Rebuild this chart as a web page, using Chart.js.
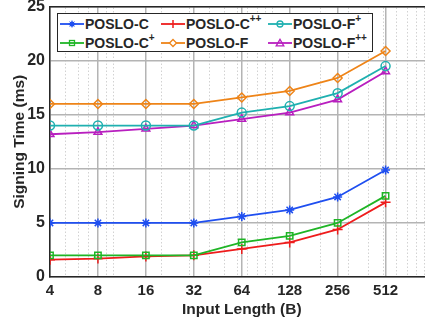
<!DOCTYPE html>
<html>
<head>
<meta charset="utf-8">
<script src="https://cdn.jsdelivr.net/npm/chart.js@4.4.1/dist/chart.umd.min.js"></script>
<style>
  html, body { margin: 0; padding: 0; background: #fff; overflow: hidden; }
  #wrap { position: relative; width: 440px; height: 324px; overflow: hidden; }
  #chart { position: absolute; left: 0; top: -8px; }
  #legend {
    position: absolute; left: 57px; top: 13px; width: 312px; height: 37px;
    background: #fff; border: 1px solid #262626;
    display: grid; grid-template-columns: 101px 107px 104px; grid-template-rows: 19px 19px;
    grid-auto-flow: column; padding: 0 0 0 2px; box-sizing: content-box;
    font: bold 14px "Liberation Sans", Arial, sans-serif; color: #262626;
  }
  #legend .item { display: flex; align-items: center; white-space: nowrap; }
  #legend svg { margin-right: 1px; flex: none; }
  #legend sup { font-size: 10px; line-height: 0; position: relative; top: -1px; }
</style>
</head>
<body>
<div id="wrap">
  <canvas id="chart" width="440" height="334"></canvas>
  <div id="legend"></div>
</div>
<script>
// x positions (input length in bytes)
const inputLengths = [4, 8, 16, 32, 64, 128, 256, 512];
const yTicks = [0, 5, 10, 15, 20, 25];

// signing time (ms)
const posloC    = [5.0, 5.0, 5.0, 5.0, 5.6, 6.2, 7.4, 9.9];
const posloCp   = [2.0, 2.0, 2.0, 2.0, 3.2, 3.8, 5.0, 7.5];
const posloCpp  = [1.6, 1.7, 1.9, 2.0, 2.6, 3.2, 4.4, 6.9];
const posloF    = [16.0, 16.0, 16.0, 16.0, 16.6, 17.2, 18.4, 20.9];
const posloFp   = [14.0, 14.0, 14.0, 14.0, 15.2, 15.8, 17.0, 19.5];
const posloFpp  = [13.2, 13.4, 13.7, 14.0, 14.6, 15.2, 16.4, 19.0];

const seriesNames = ["POSLO-C", "POSLO-C<sup>+</sup>", "POSLO-C<sup>++</sup>", "POSLO-F", "POSLO-F<sup>+</sup>", "POSLO-F<sup>++</sup>"];
const seriesColors = ["#1f4ff0", "#1fb526", "#ee1c1c", "#ee8418", "#1fb0b0", "#b81fbf"];
const seriesMarkers = ["star", "rect", "cross", "rectRot", "circle", "triangle"];
const seriesData = [posloC, posloCp, posloCpp, posloF, posloFp, posloFpp];

// minor log grid (1..9 x 10^k) between 4 and 1024
const minorTicks = [];
[1, 10, 100, 1000].forEach(p => {
  for (let m = 1; m <= 9; m++) {
    const v = m * p;
    if (v > 4 && v < 1024 && !inputLengths.includes(v)) minorTicks.push(v);
  }
});

const textColor = "#262626";
const family = "'Liberation Sans', Arial, sans-serif";

const datasets = seriesData.map((d, i) => ({
  label: seriesNames[i],
  data: inputLengths.map((x, j) => ({ x, y: d[j] })),
  borderColor: seriesColors[i],
  backgroundColor: seriesMarkers[i] === "star" ? seriesColors[i] : "rgba(0,0,0,0)",
  pointBorderColor: seriesColors[i],
  pointStyle: seriesMarkers[i],
  pointRadius: seriesMarkers[i] === "cross" ? 5 : 4.5,
  pointBorderWidth: 1.5,
  borderWidth: 1.8,
  tension: 0
}));

new Chart(document.getElementById("chart"), {
  type: "line",
  data: { datasets },
  options: {
    responsive: false,
    animation: false,
    layout: { padding: { left: 10, right: 5, top: 0, bottom: 7 } },
    plugins: { legend: { display: false }, tooltip: { enabled: false } },
    scales: {
      x: {
        type: "logarithmic",
        position: "bottom",
        min: 4, max: 1024,
        afterBuildTicks: s => { s.ticks = inputLengths.map(v => ({ value: v })); },
        afterFit: s => { s.height = 42; },
        ticks: { color: textColor, font: { family, weight: "bold", size: 15 }, padding: 5,
                 autoSkip: false, maxRotation: 0, callback: v => String(v) },
        grid: { color: "#b4b4b4", lineWidth: 1.5, drawTicks: false },
        border: { color: textColor, width: 1.5 },
        title: { display: true, text: "Input Length (B)", color: textColor,
                 font: { family, weight: "bold", size: 15.5 }, padding: 0 }
      },
      x2: {
        type: "logarithmic",
        position: "top",
        min: 4, max: 1024,
        afterBuildTicks: s => { s.ticks = minorTicks.map(v => ({ value: v })); },
        afterFit: s => { s.height = 7; },
        ticks: { display: false },
        grid: { color: "#d2d2d2", lineWidth: 1, drawTicks: false },
        border: { color: textColor, width: 1.5, dash: [1.5, 2] }
      },
      y: {
        min: 0, max: 25,
        afterBuildTicks: s => { s.ticks = yTicks.map(v => ({ value: v })); },
        afterFit: s => { s.width = 40; },
        ticks: { color: textColor, font: { family, weight: "bold", size: 16 }, padding: 5 },
        grid: { color: "#b4b4b4", lineWidth: 1.5, drawTicks: false },
        border: { color: textColor, width: 1.5 },
        title: { display: true, text: "Signing Time (ms)", color: textColor,
                 font: { family, weight: "bold", size: 15.5 }, padding: 0 }
      }
    }
  }
});

// legend (HTML so the superscripts render as real text)
function markerSvg(style, color) {
  let m = "";
  if (style === "star") m = `<circle cx="12" cy="6" r="2.6" fill="${color}"/><path d="M12 2.5V9.5M8.5 6H15.5M9.6 3.6L14.4 8.4M14.4 3.6L9.6 8.4" stroke="${color}" stroke-width="1"/>`;
  if (style === "rect") m = `<rect x="9.5" y="3.5" width="5" height="5" fill="none" stroke="${color}" stroke-width="1.3"/>`;
  if (style === "cross") m = `<path d="M12 2V10" stroke="${color}" stroke-width="1.5"/>`;
  if (style === "rectRot") m = `<path d="M12 2.5L15.5 6L12 9.5L8.5 6Z" fill="#fff" stroke="${color}" stroke-width="1.3"/>`;
  if (style === "circle") m = `<circle cx="12" cy="6" r="3" fill="none" stroke="${color}" stroke-width="1.3"/>`;
  if (style === "triangle") m = `<path d="M12 2.3L15.8 8.8H8.2Z" fill="none" stroke="${color}" stroke-width="1.3"/>`;
  return `<svg width="24" height="12" viewBox="0 0 24 12"><path d="M0 6H24" stroke="${color}" stroke-width="1.8"/>${m}</svg>`;
}
document.getElementById("legend").innerHTML = seriesNames.map((n, i) =>
  `<div class="item">${markerSvg(seriesMarkers[i], seriesColors[i])}<span>${n}</span></div>`).join("");
</script>
</body>
</html>
